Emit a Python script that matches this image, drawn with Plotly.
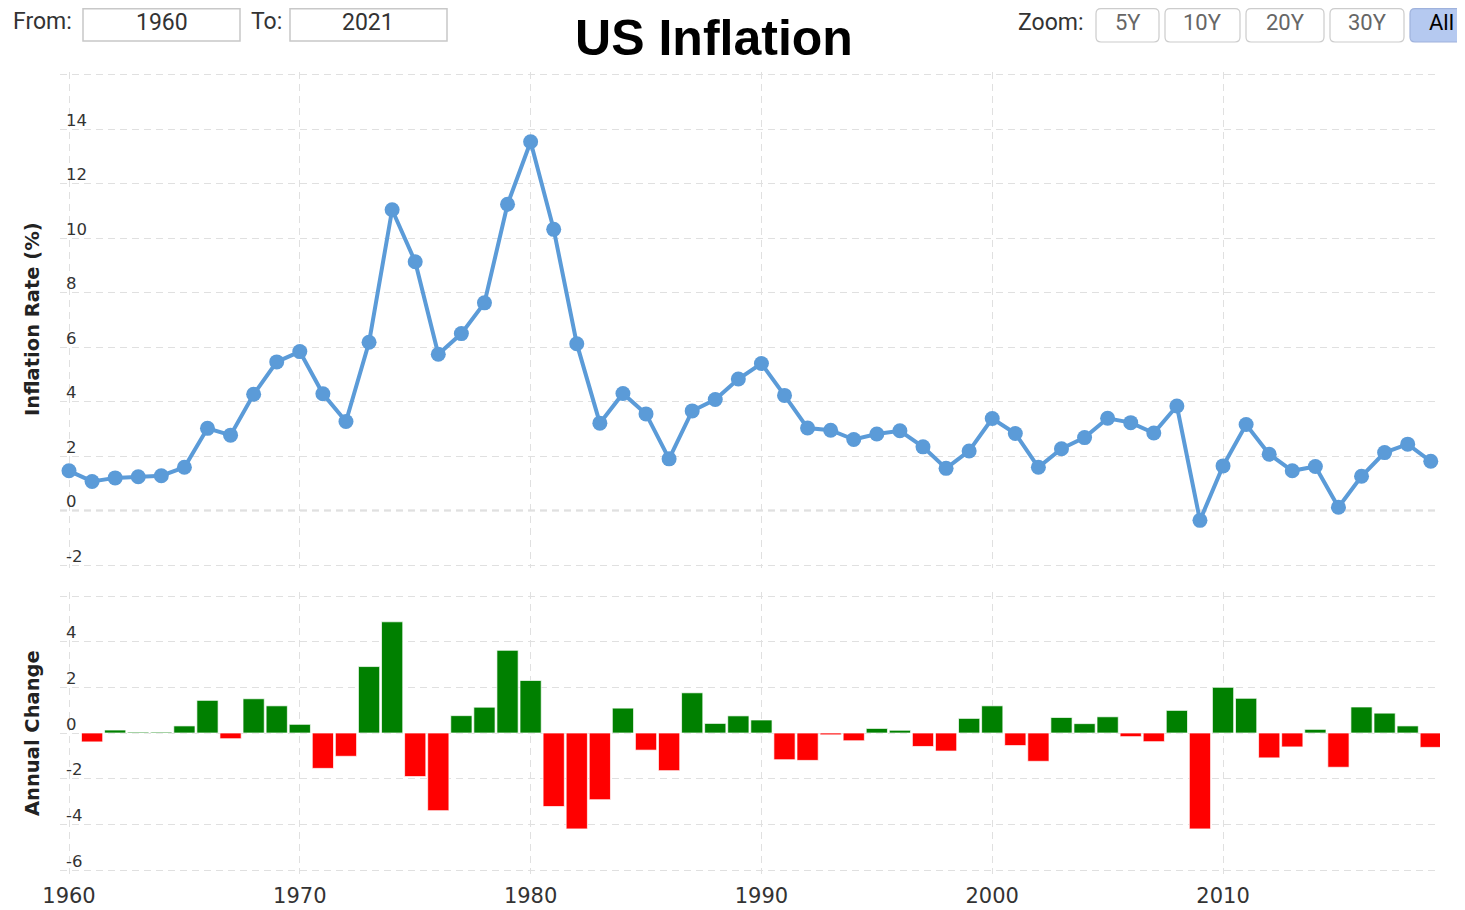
import plotly.graph_objects as go

# ---------------- data ----------------
years = list(range(1960, 2020))
inflation = [1.46, 1.07, 1.20, 1.24, 1.28, 1.59, 3.02, 2.77, 4.27, 5.46,
             5.84, 4.29, 3.27, 6.18, 11.05, 9.14, 5.74, 6.50, 7.63, 11.25,
             13.55, 10.33, 6.13, 3.21, 4.30, 3.55, 1.90, 3.66, 4.08, 4.83,
             5.40, 4.23, 3.03, 2.95, 2.61, 2.81, 2.93, 2.34, 1.55, 2.19,
             3.38, 2.83, 1.59, 2.27, 2.68, 3.39, 3.23, 2.85, 3.84, -0.36,
             1.64, 3.16, 2.07, 1.46, 1.62, 0.12, 1.26, 2.13, 2.44, 1.81]
change_years = list(range(1961, 2020))
annual_change = [-0.39, 0.13, 0.04, 0.04, 0.31, 1.43, -0.25, 1.50, 1.19,
                 0.38, -1.55, -1.02, 2.91, 4.87, -1.91, -3.40, 0.76, 1.13, 3.62,
                 2.30, -3.22, -4.20, -2.92, 1.09, -0.75, -1.65, 1.76, 0.42, 0.75,
                 0.57, -1.17, -1.20, -0.08, -0.34, 0.20, 0.12, -0.59, -0.79, 0.64,
                 1.19, -0.55, -1.24, 0.68, 0.41, 0.71, -0.16, -0.38, 0.99, -4.20,
                 2.00, 1.52, -1.09, -0.61, 0.16, -1.50, 1.14, 0.87, 0.31, -0.63]
x_ticks = [1960, 1970, 1980, 1990, 2000, 2010]
y1_ticks = [-2, 0, 2, 4, 6, 8, 10, 12, 14, 16]
y1_labels = [-2, 0, 2, 4, 6, 8, 10, 12, 14]
y2_ticks = [-6, -4, -2, 0, 2, 4, 6]
y2_labels = [-6, -4, -2, 0, 2, 4]
zoom_buttons = ["5Y", "10Y", "20Y", "30Y", "All"]
from_year, to_year = "1960", "2021"

# ---------------- layout helpers (screen pixel coords) ----------------
OFF = 8                      # page body margin
W, H = 1465, 910
PL, PR, PT, PB = 60, 1440, 72, 874   # plot area in screen px
PW, PH = PR - PL, PB - PT


def px(x):
    return (x - PL) / PW


def py(y):
    return (PB - y) / PH


def rrect(x0, y0, x1, y1, r=4):
    ax0, ax1 = px(x0), px(x1)
    ay0, ay1 = py(y1), py(y0)
    rx, ry = r / PW, r / PH
    return (f"M{ax0+rx},{ay0} L{ax1-rx},{ay0} Q{ax1},{ay0} {ax1},{ay0+ry} "
            f"L{ax1},{ay1-ry} Q{ax1},{ay1} {ax1-rx},{ay1} L{ax0+rx},{ay1} "
            f"Q{ax0},{ay1} {ax0},{ay1-ry} L{ax0},{ay0+ry} Q{ax0},{ay0} {ax0+rx},{ay0} Z")


LINE_COLOR = "#5b9bd8"
GRID = "#e0e0e0"
DASH = "7px,5px"

fig = go.Figure()
fig.add_trace(go.Scatter(
    x=years, y=inflation, mode="lines+markers",
    line=dict(color=LINE_COLOR, width=4),
    marker=dict(color=LINE_COLOR, size=15),
    xaxis="x", yaxis="y", showlegend=False,
))
fig.add_trace(go.Bar(
    x=change_years, y=annual_change,
    marker=dict(color=["#008000" if v >= 0 else "#ff0000" for v in annual_change],
                line=dict(color="rgba(255,255,255,0.7)", width=1)),
    width=0.92, xaxis="x2", yaxis="y2", showlegend=False,
))

xcommon = dict(range=[1959.61, 2019.40], tickvals=x_ticks, showgrid=True,
               gridcolor=GRID, griddash=DASH, gridwidth=1, zeroline=False,
               showline=False, ticks="", automargin=False)
ycommon = dict(showgrid=True, gridcolor=GRID, griddash=DASH, zeroline=False,
               showline=False, ticks="", showticklabels=False, automargin=False)
fig.update_layout(
    width=W - OFF, height=H - OFF,
    margin=dict(l=PL - OFF, r=W - PR, t=PT - OFF, b=H - PB, autoexpand=False),
    paper_bgcolor="white", plot_bgcolor="white",
    font=dict(family="DejaVu Sans", color="#333333"),
    title=dict(text="<b>US Inflation</b>", x=(714 - OFF) / (W - OFF), xanchor="center",
               y=1 - (37 - OFF) / (H - OFF), yanchor="middle", yref="container",
               font=dict(family="Liberation Sans", size=50, color="#000000")),
    xaxis=dict(**xcommon, domain=[0, 1], anchor="y", showticklabels=False, matches="x2"),
    xaxis2=dict(**xcommon, domain=[0, 1], anchor="y2", showticklabels=True,
                ticklabelstandoff=7, tickfont=dict(size=21, color="#333333")),
    yaxis=dict(**ycommon, domain=[py(568), 1.0], range=[-2.11, 16.11], tickvals=y1_ticks),
    yaxis2=dict(**ycommon, domain=[0, py(592)], range=[-6.175, 6.175], tickvals=y2_ticks),
)

shapes = [
    dict(type="line", xref="x domain", yref="y", x0=0, x1=1, y0=0, y1=0,
         line=dict(color="#b0b0b0", width=1.5, dash=DASH), layer="below"),
    dict(type="rect", xref="paper", yref="paper", x0=px(83), x1=px(240),
         y0=py(41), y1=py(8.7), line=dict(color="#c8c8c8", width=1.5), fillcolor="white"),
    dict(type="rect", xref="paper", yref="paper", x0=px(290), x1=px(447),
         y0=py(41), y1=py(8.7), line=dict(color="#c8c8c8", width=1.5), fillcolor="white"),
]
btn_pos = [(1096, 1159), (1165, 1240), (1246, 1324), (1330, 1404), (1410, 1475)]
for (b0, b1), lab in zip(btn_pos, zoom_buttons):
    sel = lab == "All"
    shapes.append(dict(type="path", xref="paper", yref="paper", path=rrect(b0, 8.7, b1, 42, 5),
                       line=dict(color="#9fb2dc" if sel else "#cccccc", width=1.2),
                       fillcolor="#b5c9f0" if sel else "white"))
fig.update_layout(shapes=shapes)

ann = []


def label(text, x, y, size=23, color="#333333", family="Roboto", **kw):
    ann.append(dict(text=text, x=px(x), y=py(y), xref="paper", yref="paper",
                    showarrow=False, xanchor="center", yanchor="middle",
                    font=dict(family=family, size=size, color=color), **kw))


label("From:", 42, 21)
label(from_year, 162, 22)
label("To:", 266, 21)
label(to_year, 368, 22)
label("Zoom:", 1051, 22)
for (b0, b1), lab in zip(btn_pos, zoom_buttons):
    label(lab, (b0 + b1) / 2 if lab != "All" else 1441, 23, size=22,
          color="#000000" if lab == "All" else "#666666")
label("<b>Inflation Rate (%)</b>", 32, 319, size=19.5, color="#222222",
      family="DejaVu Sans", textangle=-90)
label("<b>Annual Change</b>", 32, 733, size=19.5, color="#222222",
      family="DejaVu Sans", textangle=-90)

# y tick labels drawn inside the plot, just above each gridline
for yref, labs in (("y", y1_labels), ("y2", y2_labels)):
    for v in labs:
        ann.append(dict(text=str(v), x=px(64), xref="paper", y=v, yref=yref,
                        showarrow=False, xanchor="left", yanchor="middle", yshift=9,
                        font=dict(family="DejaVu Sans", size=16.5, color="#333333")))
fig.update_layout(annotations=ann)

fig.write_html("out.html")
